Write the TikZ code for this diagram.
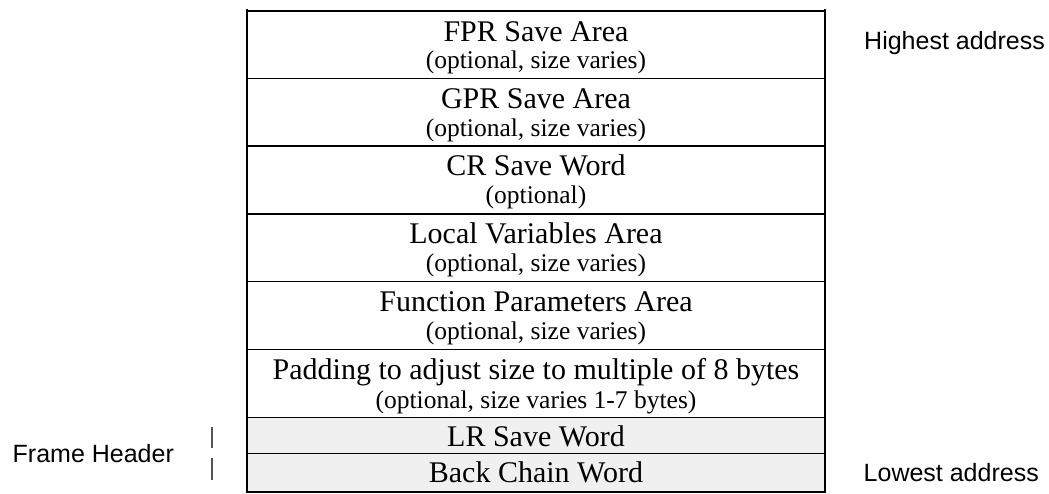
\documentclass[tikz,border=0pt]{standalone}
\usepackage{fontspec}
\setmainfont{Liberation Serif}
\newfontfamily\labelfont{Liberation Sans}
\definecolor{hdrfill}{HTML}{F0F0F0}
\definecolor{tickgray}{HTML}{555555}
\begin{document}
\begin{tikzpicture}[x=1pt,y=-1pt,
  rowbox/.style={draw=black,line width=1.6pt,minimum width=578pt,inner sep=0pt,outer sep=0pt},
  hdrbox/.style={rowbox,fill=hdrfill},
  title/.style={anchor=base,inner sep=0pt,font=\fontsize{30}{32}\selectfont},
  note/.style={anchor=base,inner sep=0pt,font=\fontsize{25.5}{27}\selectfont},
  side/.style={anchor=base west,inner sep=0pt,font=\labelfont\fontsize{25}{27}\selectfont},
  tick/.style={draw=tickgray,line width=1.1pt}]
\useasboundingbox (0,0) rectangle (1049,494);

% stack frame rows, highest address on top
\node[rowbox,minimum height=67.5pt] (fpr)  at (536,44.75)  {};
\node[rowbox,minimum height=67.8pt] (gpr)  at (536,112.4)  {};
\node[rowbox,minimum height=67.9pt] (cr)   at (536,180.25) {};
\node[rowbox,minimum height=67.5pt] (loc)  at (536,247.95) {};
\node[rowbox,minimum height=67.8pt] (fun)  at (536,315.6)  {};
\node[rowbox,minimum height=67.9pt] (pad)  at (536,383.45) {};
\node[hdrbox,minimum height=36.0pt] (lr)   at (536,435.4)  {};
\node[hdrbox,minimum height=38.4pt] (back) at (536,472.6)  {};

% side borders run slightly past the top edge
\coordinate (tl) at (247,9);
\coordinate (tr) at (825,9);
\draw[line width=1.6pt] (tl) -- (fpr.north west);
\draw[line width=1.6pt] (tr) -- (fpr.north east);

% row texts
\node[title] (fprt)  at (536,41.7)  {FPR Save Area};
\node[note]  (fprn)  at (536,69.0)  {(optional, size varies)};
\node[title] (gprt)  at (536,108.8) {GPR Save Area};
\node[note]  (gprn)  at (536,136.6) {(optional, size varies)};
\node[title] (crt)   at (536,175.5) {CR Save Word};
\node[note]  (crn)   at (536,203.5) {(optional)};
\node[title] (loct)  at (536,243.3) {Local Variables Area};
\node[note]  (locn)  at (536,271.7) {(optional, size varies)};
\node[title] (funt)  at (536,311.5) {Function Parameters Area};
\node[note]  (funn)  at (536,339.6) {(optional, size varies)};
\node[title] (padt)  at (536,379.0) {Padding to adjust size to multiple of 8 bytes};
\node[note]  (padn)  at (536,408.0) {(optional, size varies 1-7 bytes)};
\node[title] (lrt)   at (536,446.0) {LR Save Word};
\node[title] (backt) at (536,482.7) {Back Chain Word};

% address labels
\node[side] (high) at (864,49.3)  {Highest address};
\node[side] (low)  at (863.5,481.7) {Lowest address};
\node[side] (fh)   at (12.5,462.3) {Frame Header};

% frame header bracket ticks
\coordinate (t1a) at (212,426.7);
\coordinate (t1b) at (212,448);
\coordinate (t2a) at (212,458);
\coordinate (t2b) at (212,480);
\draw[tick] (t1a) -- (t1b);
\draw[tick] (t2a) -- (t2b);
\end{tikzpicture}
\end{document}
